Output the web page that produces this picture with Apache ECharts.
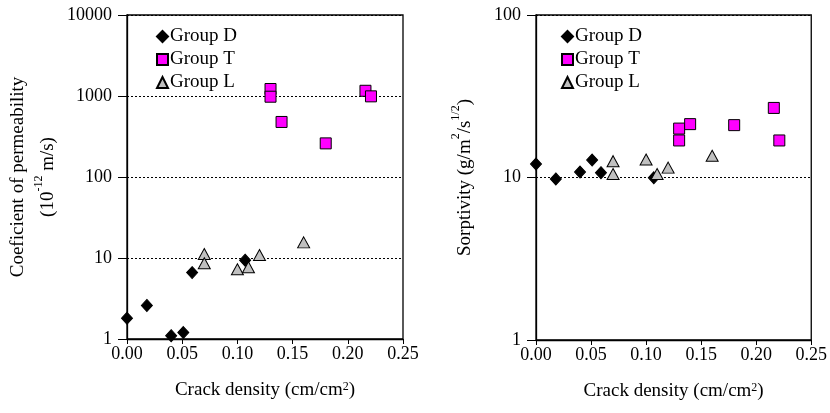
<!DOCTYPE html>
<html>
<head>
<meta charset="utf-8">
<script src="https://cdn.jsdelivr.net/npm/echarts@6/dist/echarts.min.js"></script>
<style>
  html, body { margin: 0; padding: 0; background: #fff; }
  #chart { width: 830px; height: 413px; }
</style>
</head>
<body>
<div id="chart"></div>
<script>
// crack density (cm/cm2) per group
const dCrack = [0.0, 0.018, 0.04, 0.051, 0.059, 0.107]
const tCrack = [0.13, 0.13, 0.14, 0.18, 0.216, 0.221]
const lCrack = [0.07, 0.07, 0.10, 0.11, 0.12, 0.16]

// coefficient of permeability (10^-12 m/s)
const dPerm = [1.8, 2.6, 1.1, 1.2, 6.6, 9.4]
const tPerm = [1220, 980, 478, 260, 1160, 990]
const lPerm = [11.2, 8.6, 7.25, 7.7, 10.9, 15.6]

// sorptivity (g/m2/s^1/2)
const dSorp = [12.1, 9.8, 10.8, 12.8, 10.7, 9.95]
const tSorp = [20.0, 16.9, 21.3, 21.0, 26.8, 16.9]
const lSorp = [12.6, 10.5, 12.9, 10.5, 11.5, 13.6]

const font = 'Liberation Serif, Times New Roman, serif'
const pair = (xs, ys) => xs.map((x, i) => [x, ys[i]])

const groups = [
  { name: 'Group D', symbol: 'diamond', size: [11, 12], color: '#000', border: '#000' },
  { name: 'Group T', symbol: 'rect', size: 11, color: '#ff00ff', border: '#000' },
  { name: 'Group L', symbol: 'triangle', size: [12, 11], color: '#c0c0c0', border: '#000' },
]
const leftData = [pair(dCrack, dPerm), pair(tCrack, tPerm), pair(lCrack, lPerm)]
const rightData = [pair(dCrack, dSorp), pair(tCrack, tSorp), pair(lCrack, lSorp)]

const supRich = {
  sup: { fontSize: 12, fontFamily: font, color: '#000', verticalAlign: 'top', lineHeight: 12, padding: [0, 0, 10, 0] },
}

function xAxis(idx) {
  return {
    gridIndex: idx,
    type: 'value',
    min: 0,
    max: 0.25,
    interval: 0.05,
    name: 'Crack density (cm/cm{sup|2})',
    nameLocation: 'middle',
    nameGap: 42,
    nameTextStyle: { fontFamily: font, fontSize: 19, color: '#000', rich: supRich },
    axisLine: { lineStyle: { color: '#000', width: 1.3 } },
    axisTick: { length: 5, lineStyle: { color: '#000' } },
    axisLabel: {
      fontFamily: font, fontSize: 18, color: '#000', margin: 6,
      formatter: v => v.toFixed(2),
    },
    splitLine: { show: false },
  }
}

function yAxis(idx, max, name, gap) {
  return {
    gridIndex: idx,
    type: 'log',
    logBase: 10,
    min: 1,
    max: max,
    name: name,
    nameLocation: 'middle',
    nameGap: gap,
    nameTextStyle: { fontFamily: font, fontSize: 19, color: '#000', lineHeight: 30, rich: supRich },
    axisLine: { lineStyle: { color: '#000', width: 1.3 } },
    axisTick: { inside: false, length: 9, lineStyle: { color: '#000' } },
    minorTick: { show: false },
    axisLabel: { fontFamily: font, fontSize: 18, color: '#000', margin: 15, formatter: v => String(v) },
    splitLine: { show: true, lineStyle: { color: '#000', type: [2, 2], width: 1 } },
  }
}

function legend(left) {
  return {
    orient: 'vertical',
    left: left,
    top: 22,
    itemWidth: 11,
    itemHeight: 11,
    itemGap: 4,
    selectedMode: false,
    textStyle: { fontFamily: font, fontSize: 19, color: '#000', padding: [0, 0, 0, -3] },
    data: groups.map(g => g.name),
  }
}

const series = []
;[leftData, rightData].forEach((set, gi) => {
  groups.forEach((g, i) => {
    series.push({
      name: g.name,
      type: 'scatter',
      xAxisIndex: gi,
      yAxisIndex: gi,
      symbol: g.symbol,
      symbolSize: g.size,
      itemStyle: { color: g.color, borderColor: g.border, borderWidth: 1, opacity: 1 },
      data: set[i],
      z: 3 + i,
    })
  })
})

const chart = echarts.init(document.getElementById('chart'), null, { renderer: 'canvas' })
chart.setOption({
  animation: false,
  backgroundColor: '#fff',
  grid: [
    { left: 127, right: 427, top: 15, bottom: 74, show: true, borderColor: '#000', borderWidth: 1.3, backgroundColor: 'transparent' },
    { left: 536, right: 16, top: 15, bottom: 73, show: true, borderColor: '#000', borderWidth: 1.3, backgroundColor: 'transparent' },
  ],
  legend: [legend(151), legend(556)],
  xAxis: [xAxis(0), xAxis(1)],
  yAxis: [
    yAxis(0, 10000, 'Coeficient of permeability\n(10{sup|-12} m/s)', 62),
    yAxis(1, 100, 'Sorptivity (g/m{sup|2}/s{sup|1/2})', 56),
  ],
  series: series,
})
</script>
</body>
</html>
